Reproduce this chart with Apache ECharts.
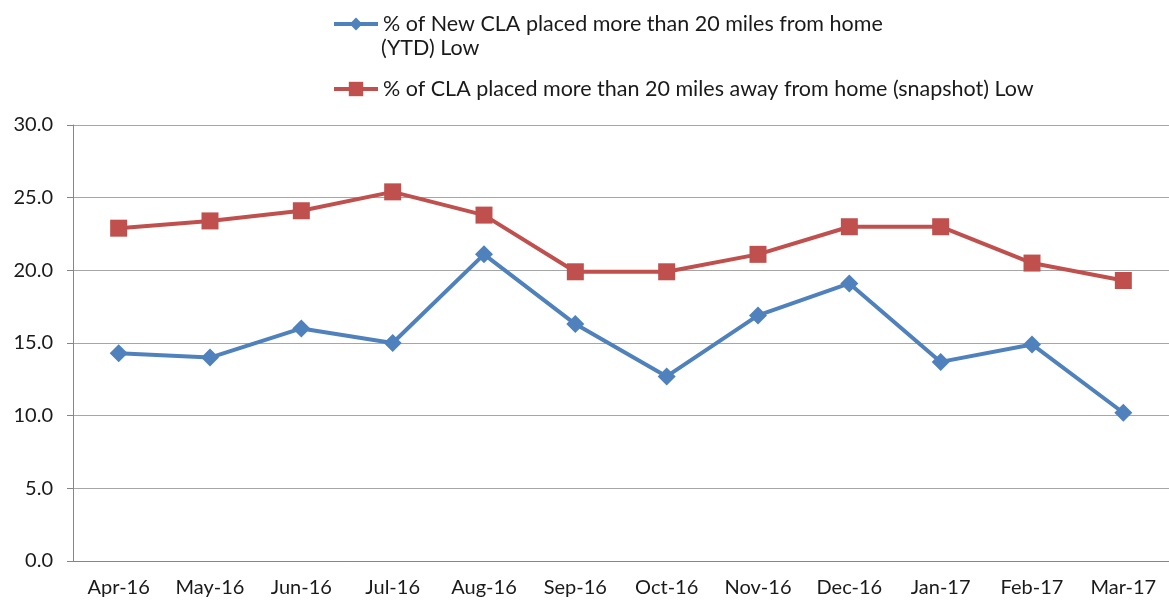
<!DOCTYPE html>
<html>
<head>
<meta charset="utf-8">
<script src="https://cdn.jsdelivr.net/npm/echarts@6/dist/echarts.min.js"></script>
<style>
  html, body { margin: 0; padding: 0; background: #fff; }
</style>
</head>
<body>
<div id="cla_chart" style="width:1169px;height:601px;"></div>
<script>
var months = ['Apr-16', 'May-16', 'Jun-16', 'Jul-16', 'Aug-16', 'Sep-16',
              'Oct-16', 'Nov-16', 'Dec-16', 'Jan-17', 'Feb-17', 'Mar-17'];
var newClaYtd = [14.3, 14.0, 16.0, 15.0, 21.1, 16.3, 12.7, 16.9, 19.1, 13.7, 14.9, 10.2];
var claSnapshot = [22.9, 23.4, 24.1, 25.4, 23.8, 19.9, 19.9, 21.1, 23.0, 23.0, 20.5, 19.3];
var nameYtd = '% of New CLA placed more than 20 miles from home';
var nameYtdLine2 = '(YTD) Low';
var nameSnapshot = '% of CLA placed more than 20 miles away from home (snapshot) Low';

var font = 'Lato';
var textColor = '#1a1a1a';

function drawChart() {
    var chart = echarts.init(document.getElementById('cla_chart'));
    var legendText = { fontSize: 21.5, color: textColor, fontFamily: font };

    chart.setOption({
        animation: false,
        textStyle: { fontFamily: font },
        legend: [
            {
                data: [nameYtd],
                left: 332, top: 13, padding: 0,
                itemWidth: 44, itemHeight: 16,
                lineStyle: { width: 4 },
                textStyle: legendText
            },
            {
                data: [nameSnapshot],
                left: 332, top: 78, padding: 0,
                itemWidth: 44, itemHeight: 18,
                lineStyle: { width: 4 },
                textStyle: legendText
            }
        ],
        graphic: [{
            type: 'text',
            left: 381, top: 37,
            style: { text: nameYtdLine2, fontSize: 21.5, fill: textColor, fontFamily: font }
        }],
        grid: { left: 73, top: 125, width: 1105, height: 436 },
        xAxis: {
            type: 'category',
            data: months,
            axisLine: { lineStyle: { color: '#868686', width: 1 } },
            axisTick: { length: 6, lineStyle: { color: '#868686' } },
            axisLabel: { fontSize: 20, color: textColor, margin: 17, interval: 0, fontFamily: font }
        },
        yAxis: {
            type: 'value',
            min: 0, max: 30, interval: 5,
            axisLine: { show: true, lineStyle: { color: '#868686', width: 1 } },
            axisTick: { show: true, length: 6, lineStyle: { color: '#868686' } },
            axisLabel: {
                fontSize: 20, color: textColor, margin: 20, fontFamily: font,
                formatter: function (v) { return v.toFixed(1); }
            },
            splitLine: { lineStyle: { color: '#a6a6a6', width: 1 } }
        },
        series: [
            {
                name: nameYtd,
                type: 'line',
                data: newClaYtd,
                symbol: 'diamond',
                symbolSize: 18,
                lineStyle: { color: '#4f81bd', width: 4 },
                itemStyle: { color: '#4f81bd' }
            },
            {
                name: nameSnapshot,
                type: 'line',
                data: claSnapshot,
                symbol: 'rect',
                symbolSize: 17,
                lineStyle: { color: '#c0504d', width: 4 },
                itemStyle: { color: '#c0504d' }
            }
        ]
    });

    window.addEventListener('resize', function () {
        chart.resize();
    });
}

if (document.fonts && document.fonts.load) {
    document.fonts.load('21px Lato').then(drawChart, drawChart);
} else {
    drawChart();
}
</script>
</body>
</html>
